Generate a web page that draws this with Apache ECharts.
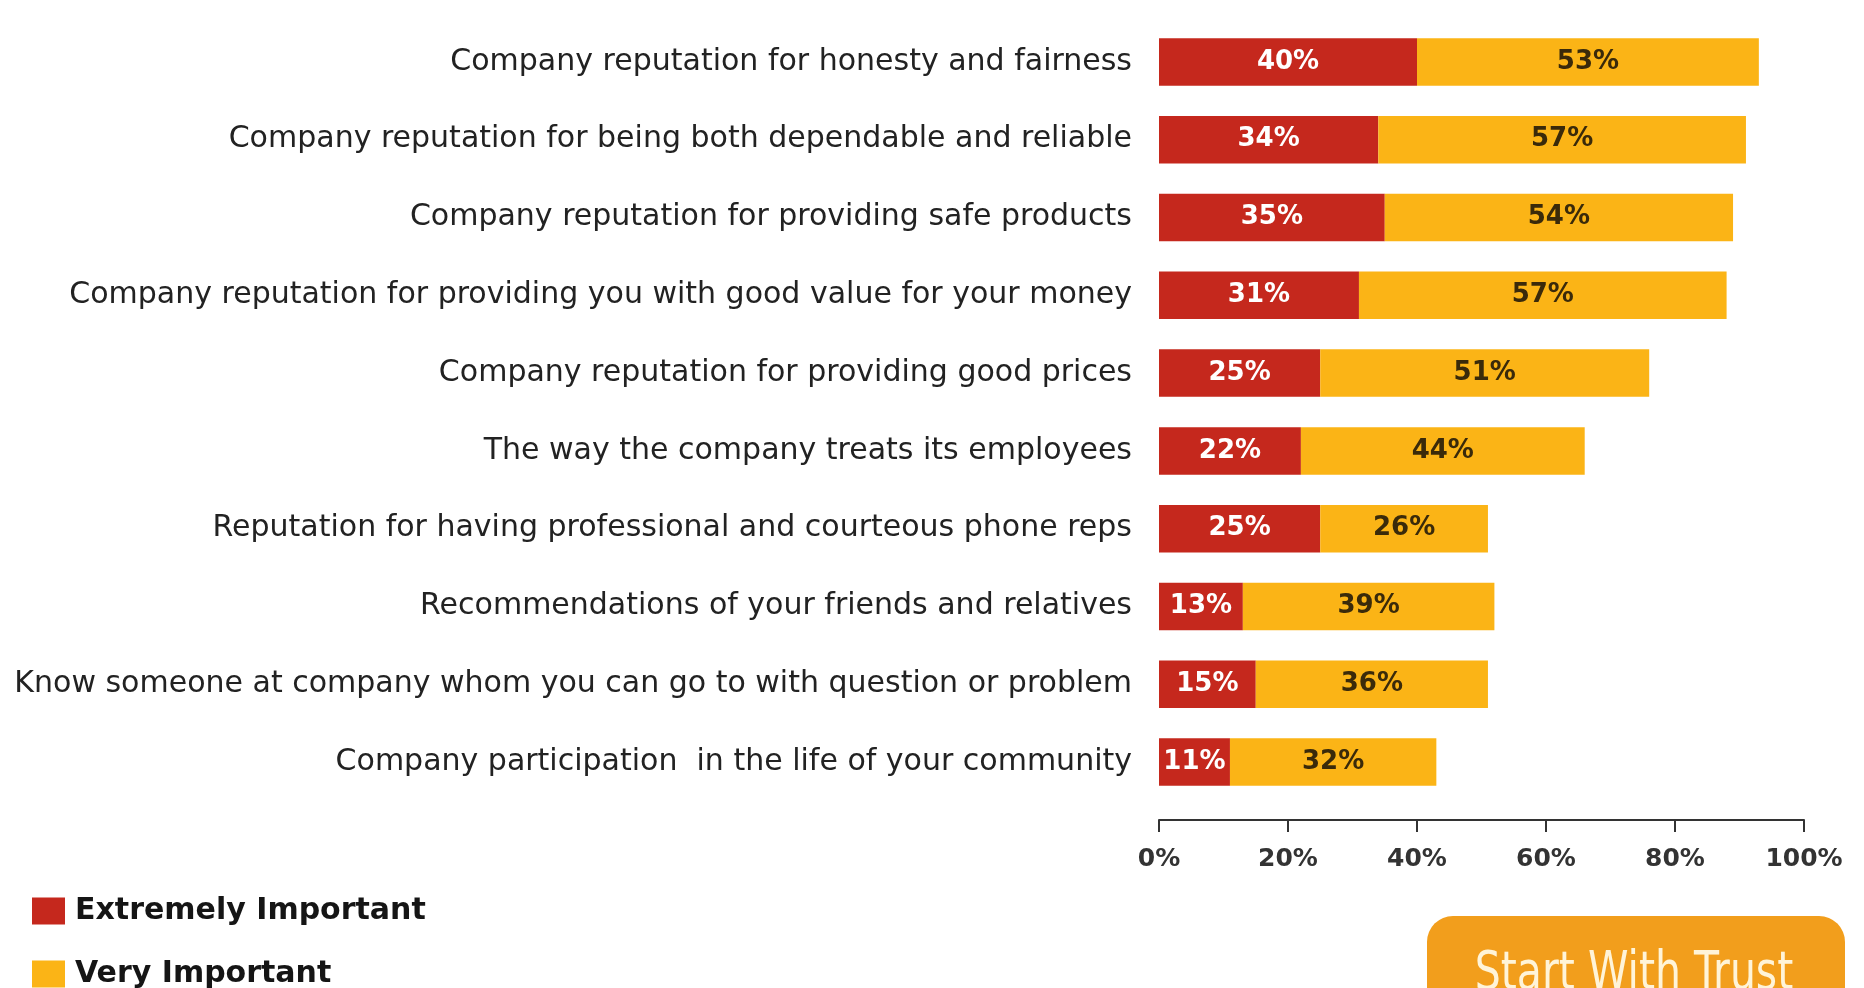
<!DOCTYPE html>
<html>
<head>
<meta charset="utf-8">
<script src="https://cdn.jsdelivr.net/npm/echarts@6/dist/echarts.min.js"></script>
<style>
html,body{margin:0;padding:0;background:#fff;}
#chart{width:1864px;height:988px;}
</style>
</head>
<body>
<div id="chart"></div>
<script>
var categories = [
  "Company reputation for honesty and fairness",
  "Company reputation for being both dependable and reliable",
  "Company reputation for providing safe products",
  "Company reputation for providing you with good value for your money",
  "Company reputation for providing good prices",
  "The way the company treats its employees",
  "Reputation for having professional and courteous phone reps",
  "Recommendations of your friends and relatives",
  "Know someone at company whom you can go to with question or problem",
  "Company participation  in the life of your community"
];
var extremelyImportant = [40, 34, 35, 31, 25, 22, 25, 13, 15, 11];
var veryImportant = [53, 57, 54, 57, 51, 44, 26, 39, 36, 32];
var seriesNames = ["Extremely Important", "Very Important"];
var xTicks = [0, 20, 40, 60, 80, 100];
var buttonText = "Start With Trust";

var RED = "#C5281D", YELLOW = "#FBB416";
var chart = echarts.init(document.getElementById('chart'));
chart.setOption({
  backgroundColor: '#ffffff',
  animation: false,
  textStyle: { fontFamily: 'DejaVu Sans' },
  grid: { left: 1159, right: 60, top: 23, bottom: 187, containLabel: false },
  legend: {
    orient: 'vertical', left: 32, top: 896, padding: 0, height: 150,
    itemWidth: 33, itemHeight: 27, itemGap: 33,
    icon: 'rect',
    textStyle: { fontFamily: 'DejaVu Sans', fontWeight: 'bold', fontSize: 30, color: '#151515', padding: [0,0,0,5] },
    data: seriesNames
  },
  xAxis: {
    type: 'value', min: xTicks[0], max: xTicks[xTicks.length-1], interval: 20,
    offset: 19,
    axisLine: { show: true, lineStyle: { color: '#333', width: 2 } },
    axisTick: { show: true, length: 12, lineStyle: { color: '#333', width: 2 } },
    splitLine: { show: false },
    axisLabel: { formatter: '{value}%', fontFamily: 'DejaVu Sans', fontWeight: 'bold', fontSize: 25, color: '#333', margin: 27 }
  },
  yAxis: {
    type: 'category', data: categories, inverse: true,
    axisLine: { show: false }, axisTick: { show: false },
    axisLabel: { fontFamily: 'DejaVu Sans', fontSize: 30, color: '#222', margin: 27 }
  },
  series: [
    {
      name: seriesNames[0], type: 'bar', stack: 'total', data: extremelyImportant,
      barCategoryGap: '39%',
      itemStyle: { color: RED },
      label: { show: true, position: 'inside', formatter: '{c}%', color: '#fff', fontWeight: 'bold', fontSize: 26, fontFamily: 'DejaVu Sans' }
    },
    {
      name: seriesNames[1], type: 'bar', stack: 'total', data: veryImportant,
      barCategoryGap: '39%',
      itemStyle: { color: YELLOW },
      label: { show: true, position: 'inside', formatter: '{c}%', color: '#3a2a0a', fontWeight: 'bold', fontSize: 26, fontFamily: 'DejaVu Sans' }
    }
  ],
  graphic: [
    { type: 'rect', left: 1427, top: 916, shape: { width: 418, height: 100, r: 26 }, style: { fill: '#F29E1C' } },
    { type: 'text', x: 1634, y: 975, scaleY: 1.3,
      style: { text: buttonText, fill: '#FFF4D8', font: '41px "DejaVu Sans"', align: 'center', verticalAlign: 'middle' } }
  ]
});
</script>
</body>
</html>
